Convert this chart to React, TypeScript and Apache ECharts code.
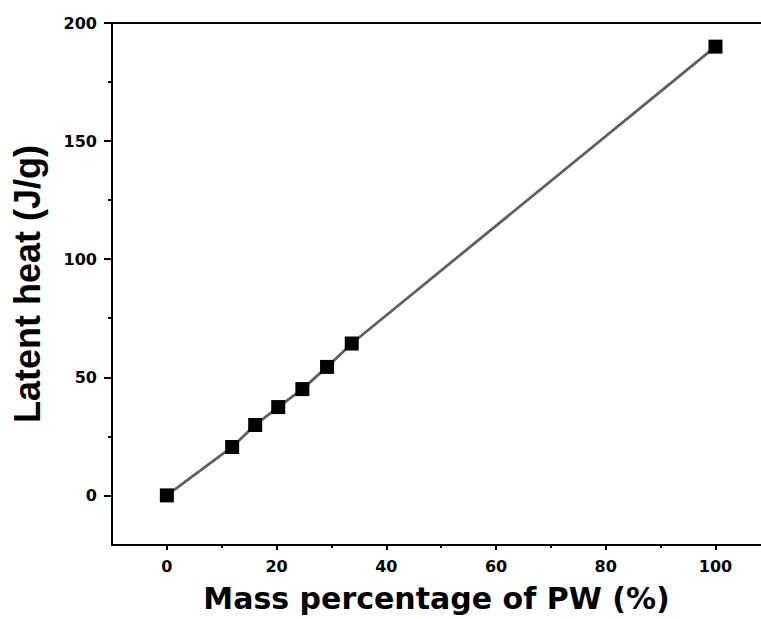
import React, { useEffect, useRef } from "react";
import * as echarts from "echarts";

// Mass fraction of PW (%) and measured latent heat (J/g)
const massPercent = [0, 11.9, 16.1, 20.3, 24.7, 29.2, 33.7, 100];
const latentHeat = [0, 20.5, 29.8, 37.4, 45.0, 54.4, 64.3, 190];

const xMajorTicks = [0, 20, 40, 60, 80, 100];
const xMinorTicks = [10, 30, 50, 70, 90];
const yMajorTicks = [0, 50, 100, 150, 200];
const yMinorTicks = [25, 75, 125, 175];

const X_MIN = -10;
const X_MAX = 108.3;
const Y_MIN = -21;
const Y_MAX = 200;

const tickFont = {
  fontFamily: "DejaVu Sans",
  fontWeight: "bold" as const,
  fontSize: 16,
  color: "#000",
};

export default function App() {
  const ref = useRef<HTMLDivElement>(null);

  useEffect(() => {
    if (!ref.current) return;
    const chart = echarts.init(ref.current, undefined, { renderer: "svg" });
    const line = { lineStyle: { color: "#000", width: 2 } };

    const baseX = { type: "value" as const, min: X_MIN, max: X_MAX, splitLine: { show: false } };
    const baseY = { type: "value" as const, min: Y_MIN, max: Y_MAX, splitLine: { show: false } };

    chart.setOption({
      animation: false,
      backgroundColor: "#fff",
      grid: { left: 112, right: 0, top: 23, bottom: 74, containLabel: false },
      xAxis: [
        {
          ...baseX,
          position: "bottom",
          axisLine: { show: true, onZero: false, ...line },
          axisTick: { show: true, inside: false, length: 5, customValues: xMajorTicks, ...line },
          axisLabel: { show: true, margin: 13, customValues: xMajorTicks, ...tickFont },
          name: "Mass percentage of PW (%)",
          nameLocation: "middle",
          nameGap: 38,
          nameTextStyle: {
            fontFamily: "DejaVu Sans",
            fontWeight: "bold",
            fontSize: 30,
            color: "#000",
          },
        },
        {
          ...baseX,
          position: "bottom",
          axisLine: { show: false, onZero: false },
          axisTick: { show: true, inside: false, length: 3, customValues: xMinorTicks, ...line },
          axisLabel: { show: false },
        },
        {
          ...baseX,
          position: "top",
          axisLine: { show: true, onZero: false, ...line },
          axisTick: { show: false },
          axisLabel: { show: false },
        },
      ],
      yAxis: [
        {
          ...baseY,
          position: "left",
          axisLine: { show: true, onZero: false, ...line },
          axisTick: { show: true, inside: false, length: 8, customValues: yMajorTicks, ...line },
          axisLabel: { show: true, margin: 15, customValues: yMajorTicks, ...tickFont },
          name: "Latent heat (J/g)",
          nameLocation: "middle",
          nameGap: 67,
          nameRotate: 90,
          nameTextStyle: {
            fontFamily: "Liberation Sans",
            fontWeight: "bold",
            fontSize: 36,
            color: "#000",
          },
        },
        {
          ...baseY,
          position: "left",
          axisLine: { show: false, onZero: false },
          axisTick: { show: true, inside: false, length: 4, customValues: yMinorTicks, ...line },
          axisLabel: { show: false },
        },
      ],
      series: [
        {
          type: "line",
          xAxisIndex: 0,
          yAxisIndex: 0,
          data: massPercent.map((x, i) => [x, latentHeat[i]]),
          symbol: "rect",
          symbolSize: 14,
          itemStyle: { color: "#000" },
          lineStyle: { color: "#606060", width: 2.8 },
          z: 3,
        },
      ],
    });
    return () => chart.dispose();
  }, []);

  return (
    <div
      ref={ref}
      style={{ position: "fixed", left: 0, top: 0, width: 761, height: 619, background: "#fff" }}
    />
  );
}
